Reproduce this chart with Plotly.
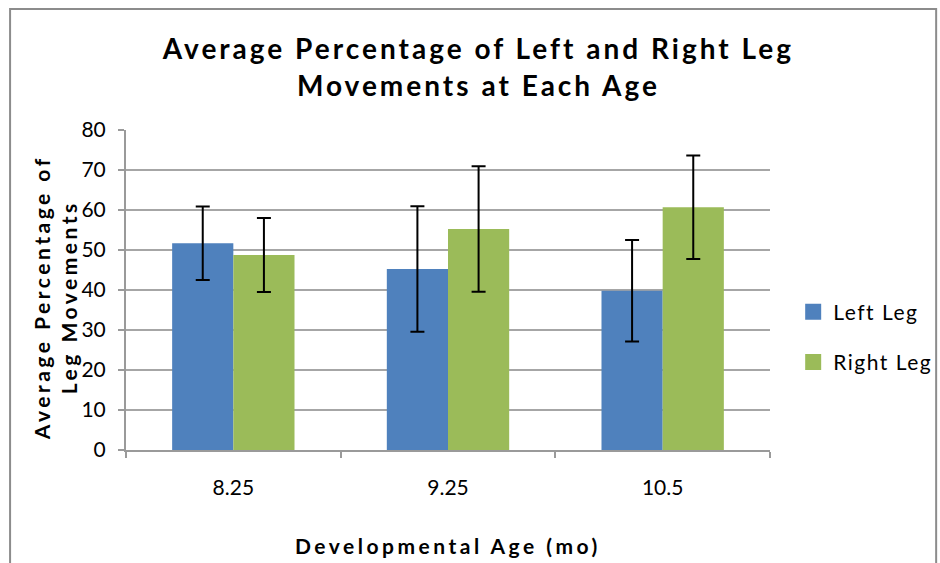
import plotly.graph_objects as go

categories = ["8.25", "9.25", "10.5"]
left_leg = [51.7, 45.25, 39.8]
left_err = [9.2, 15.7, 12.7]
right_leg = [48.75, 55.25, 60.7]
right_err = [9.25, 15.7, 12.95]
series_names = ["Left Leg", "Right Leg"]
series_colors = ["#4F81BD", "#9BBB59"]

FONT = "Lato, 'Open Sans', sans-serif"


def spaced(t, px):
    return f'<span style="letter-spacing:{px}px">{t}</span>'


fig = go.Figure()
for name, vals, errs, col in zip(series_names, [left_leg, right_leg],
                                 [left_err, right_err], series_colors):
    fig.add_trace(go.Bar(
        name=name, x=categories, y=vals, showlegend=False,
        marker=dict(color=col, line=dict(width=0)),
        error_y=dict(type="data", array=errs, visible=True,
                     color="black", thickness=2, width=7),
    ))
# legend entries with larger square swatches
for name, col in zip(series_names, series_colors):
    fig.add_trace(go.Scatter(
        name=spaced(name, 1.5), legendgroup=name, x=[None], y=[None], mode="markers",
        marker=dict(symbol="square", size=18, color=col),
    ))

fig.update_layout(
    width=940, height=563,
    barmode="group", bargap=0.43, bargroupgap=0,
    paper_bgcolor="white", plot_bgcolor="white",
    margin=dict(l=126, r=170, t=130, b=113, autoexpand=False),
    font=dict(family=FONT, color="black", size=20),
    title=dict(
        text=spaced("Average Percentage of Left and Right Leg", 3) + "<br>"
             + spaced("Movements at Each Age", 3),
        x=0.509, xanchor="center", xref="container",
        y=0.895, yanchor="middle",
        font=dict(family=FONT, size=28, color="black", weight="bold"),
    ),
    legend=dict(
        x=1.036, xanchor="left", y=0.353, yanchor="middle",
        font=dict(family=FONT, size=21, color="black"),
        tracegroupgap=20, itemwidth=30, bgcolor="rgba(0,0,0,0)",
        itemsizing="trace",
    ),
    showlegend=True,
)

fig.update_xaxes(
    type="category", showgrid=False, showline=True, linecolor="#9a9a9a", linewidth=2,
    ticks="outside", tickson="boundaries", ticklen=6, tickcolor="#9a9a9a", tickwidth=2,
    tickfont=dict(family=FONT, size=21, color="black"),
    ticklabelstandoff=18,
)
fig.update_yaxes(
    range=[0, 80], dtick=10, showgrid=True, gridcolor="#a6a6a6", gridwidth=2,
    showline=True, linecolor="#9a9a9a", linewidth=2,
    ticks="outside", ticklen=6, tickcolor="#9a9a9a", tickwidth=2,
    tickfont=dict(family=FONT, size=21, color="black"),
    ticklabelstandoff=8,
    zeroline=False,
)

fig.add_annotation(
    text="<b>" + spaced("Average Percentage of", 3.5) + "<br>"
         + spaced("Leg Movements", 3.5) + "</b>",
    xref="paper", yref="paper", x=-0.11, y=0.475,
    xanchor="center", yanchor="middle", textangle=-90, showarrow=False,
    font=dict(family=FONT, size=21, color="black"),
)
fig.add_annotation(
    text="<b>" + spaced("Developmental Age (mo)", 3.5) + "</b>",
    xref="paper", yref="paper", x=0.5, y=-0.297,
    xanchor="center", yanchor="middle", showarrow=False,
    font=dict(family=FONT, size=21, color="black"),
)

fig.add_shape(type="rect", xref="paper", yref="paper",
              x0=-0.180, x1=1.258, y0=-0.4, y1=1.378,
              line=dict(color="#8c8c8c", width=2), layer="below")

fig.write_html("out.html", config={"displayModeBar": False},
               post_script="document.body.style.margin='0';")
